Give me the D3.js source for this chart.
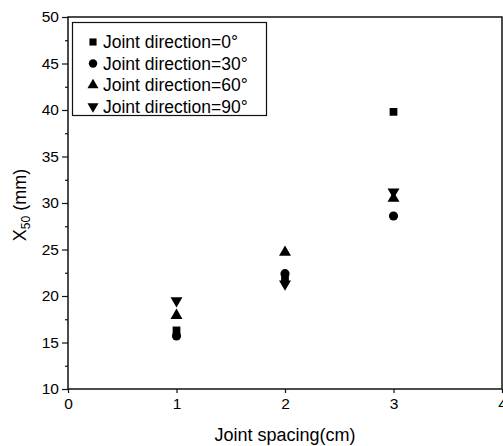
<!DOCTYPE html>
<html>
<head>
<meta charset="utf-8">
<script src="https://cdn.jsdelivr.net/npm/d3@7"></script>
<style>
  body { margin: 0; background: #fff; }
  svg { display: block; font-family: "Liberation Sans", Arial, sans-serif; }
</style>
</head>
<body>
<svg id="chart" width="503" height="446"></svg>
<script>
// Data
const spacing = [1, 2, 3];
const dir0 = [16.3, 21.9, 39.8];
const dir30 = [15.7, 22.4, 28.6];
const dir60 = [17.9, 24.7, 30.5];
const dir90 = [19.5, 21.3, 31.2];

const seriesNames = ["Joint direction=0°", "Joint direction=30°", "Joint direction=60°", "Joint direction=90°"];
const seriesValues = [dir0, dir30, dir60, dir90];
const seriesSymbols = [d3.symbolSquare, d3.symbolCircle, d3.symbolTriangle, d3.symbolTriangle];
const symbolSizes = [60, 66, 62, 62];
const symbolRotate = [0, 0, 0, 180];

const xTicks = [0, 1, 2, 3, 4];
const yTicks = [10, 15, 20, 25, 30, 35, 40, 45, 50];
const yMinor = [12.5, 17.5, 22.5, 27.5, 32.5, 37.5, 42.5, 47.5];

const margin = { left: 68, top: 17, right: 502, bottom: 389 };

const svg = d3.select("#chart");

const x = d3.scaleLinear().domain([0, 4]).range([margin.left, margin.right]);
const y = d3.scaleLinear().domain([10, 50]).range([margin.bottom, margin.top]);

// frame
svg.append("rect")
  .attr("x", margin.left)
  .attr("y", margin.top)
  .attr("width", margin.right - margin.left)
  .attr("height", margin.bottom - margin.top)
  .attr("fill", "none")
  .attr("stroke", "#111")
  .attr("stroke-width", 1.5);

// bottom axis
const xAxis = svg.append("g")
  .attr("transform", `translate(0,${margin.bottom})`)
  .call(d3.axisBottom(x).tickValues(xTicks).tickFormat(d3.format("d")).tickSize(4).tickPadding(3));

// left axis
const yAxis = svg.append("g")
  .attr("transform", `translate(${margin.left},0)`)
  .call(d3.axisLeft(y).tickValues(yTicks).tickFormat(d3.format("d")).tickSize(6).tickPadding(3));

svg.append("g")
  .attr("transform", `translate(${margin.left},0)`)
  .call(d3.axisLeft(y).tickValues(yMinor).tickFormat("").tickSize(3));

svg.selectAll(".domain").remove();
svg.selectAll(".tick line").attr("stroke", "#111").attr("stroke-width", 1.2);
svg.selectAll(".tick text")
  .attr("fill", "#000")
  .style("font-size", "15.5px")
  .style("font-family", "Liberation Sans, Arial, sans-serif");
xAxis.selectAll(".tick text").attr("dy", "0.85em");

// axis titles
svg.append("text")
  .attr("x", (margin.left + margin.right) / 2 + 0)
  .attr("y", 441)
  .attr("text-anchor", "middle")
  .attr("fill", "#000")
  .style("font-size", "18px")
  .text("Joint spacing(cm)");

const yl = svg.append("text")
  .attr("transform", `translate(26,${(margin.top + margin.bottom) / 2 + 2}) rotate(-90)`)
  .attr("text-anchor", "middle")
  .attr("fill", "#000")
  .style("font-size", "18px");
yl.append("tspan").text("X");
yl.append("tspan").attr("dy", 4).style("font-size", "12px").text("50");
yl.append("tspan").attr("dy", -4).text(" (mm)");

// points
seriesValues.forEach((vals, i) => {
  const sym = d3.symbol().type(seriesSymbols[i]).size(symbolSizes[i]);
  svg.append("g")
    .selectAll("path")
    .data(vals.map((v, j) => ({ x: spacing[j], y: v })))
    .join("path")
    .attr("d", sym)
    .attr("fill", "#000")
    .attr("transform", d => `translate(${x(d.x)},${y(d.y)}) rotate(${symbolRotate[i]})`);
});

// legend
const legend = svg.append("g");
legend.append("rect")
  .attr("x", 72.5)
  .attr("y", 22.5)
  .attr("width", 194)
  .attr("height", 93)
  .attr("fill", "#fff")
  .attr("stroke", "#111")
  .attr("stroke-width", 1.2);

const rowY = [42, 63.5, 85, 106.5];
seriesNames.forEach((name, i) => {
  const sym = d3.symbol().type(seriesSymbols[i]).size(symbolSizes[i] * 0.85);
  legend.append("path")
    .attr("d", sym)
    .attr("fill", "#000")
    .attr("transform", `translate(93,${rowY[i]}) rotate(${symbolRotate[i]})`);
  legend.append("text")
    .attr("x", 103)
    .attr("y", rowY[i])
    .attr("dy", "0.35em")
    .attr("fill", "#000")
    .style("font-size", "17.5px")
    .text(name);
});
</script>
</body>
</html>
